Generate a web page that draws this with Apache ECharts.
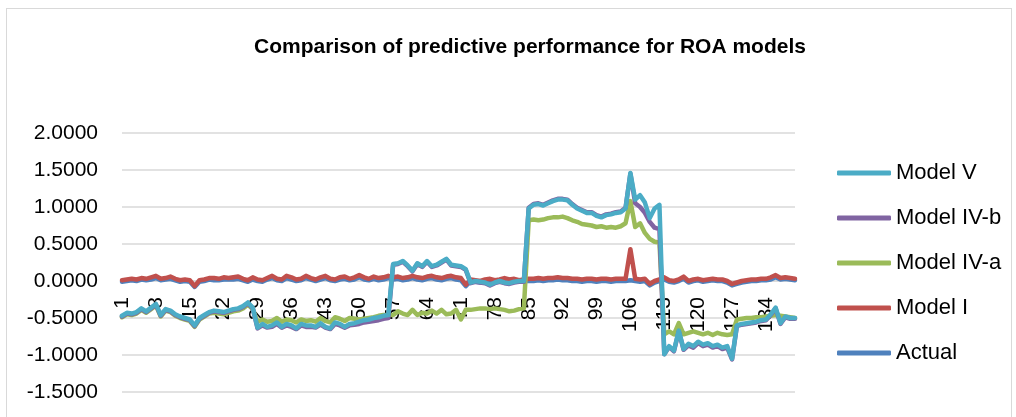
<!DOCTYPE html>
<html>
<head>
<meta charset="utf-8">
<script src="https://cdn.jsdelivr.net/npm/echarts@6/dist/echarts.min.js"></script>
<style>
    html, body { margin: 0; padding: 0; background: #fff; }
    #frame { position: absolute; left: 6px; top: 8px; width: 1004px; height: 420px; border: 1px solid #d9d9d9; }
    #main { position: absolute; left: 0; top: 0; width: 1016px; height: 417px; }
</style>
</head>
<body>
<div id="frame"></div>
<div id="main"></div>
<script>
// 横轴 1..140
var categories = [];
for (var k = 1; k <= 140; k++) {
    categories.push(String(k));
}

var yTicks = [-1.5, -1.0, -0.5, 0.0, 0.5, 1.0, 1.5, 2.0];

var modelV = [
    -0.47, -0.43, -0.44, -0.42, -0.37, -0.41, -0.36, -0.31, -0.46, -0.38,
    -0.40, -0.45, -0.48, -0.50, -0.52, -0.60, -0.50, -0.46, -0.42, -0.40,
    -0.41, -0.42, -0.40, -0.38, -0.37, -0.34, -0.29, -0.36, -0.63, -0.58,
    -0.62, -0.60, -0.56, -0.62, -0.58, -0.60, -0.64, -0.58, -0.60, -0.60,
    -0.62, -0.57, -0.62, -0.64, -0.56, -0.58, -0.62, -0.58, -0.57, -0.55,
    -0.53, -0.52, -0.50, -0.49, -0.47, -0.46, 0.23, 0.24, 0.27, 0.21,
    0.14, 0.24, 0.20, 0.27, 0.20, 0.22, 0.26, 0.30, 0.22, 0.21,
    0.20, 0.16, -0.02, 0.00, -0.01, -0.02, -0.05, -0.02, 0.00, -0.02,
    -0.03, -0.01, 0.00, 0.00, 0.98, 1.03, 1.04, 1.02, 1.05, 1.08,
    1.10, 1.10, 1.09, 1.03, 0.98, 0.95, 0.92, 0.92, 0.88, 0.86,
    0.89, 0.90, 0.92, 0.93, 0.98, 1.46, 1.10, 1.16, 1.06, 0.85,
    0.98, 1.03, -0.99, -0.88, -0.94, -0.67, -0.92, -0.85, -0.88, -0.82,
    -0.86, -0.84, -0.88, -0.86, -0.90, -0.88, -1.05, -0.60, -0.58, -0.57,
    -0.56, -0.55, -0.53, -0.52, -0.45, -0.36, -0.57, -0.48, -0.50, -0.50
];

var modelIVb = [
    -0.48, -0.44, -0.45, -0.43, -0.38, -0.42, -0.37, -0.32, -0.47, -0.39,
    -0.41, -0.46, -0.49, -0.51, -0.53, -0.61, -0.51, -0.47, -0.43, -0.41,
    -0.42, -0.43, -0.41, -0.39, -0.38, -0.35, -0.30, -0.37, -0.64, -0.60,
    -0.63, -0.62, -0.58, -0.63, -0.60, -0.62, -0.65, -0.60, -0.62, -0.62,
    -0.63, -0.59, -0.63, -0.65, -0.58, -0.60, -0.63, -0.60, -0.59, -0.58,
    -0.56, -0.55, -0.54, -0.53, -0.51, -0.50, 0.22, 0.23, 0.26, 0.20,
    0.13, 0.23, 0.19, 0.26, 0.19, 0.21, 0.25, 0.29, 0.21, 0.20,
    0.19, 0.15, -0.03, -0.01, -0.02, -0.03, -0.06, -0.03, -0.01, -0.03,
    -0.04, -0.02, -0.01, -0.01, 0.99, 1.04, 1.05, 1.03, 1.06, 1.09,
    1.11, 1.11, 1.10, 1.04, 0.99, 0.96, 0.93, 0.93, 0.89, 0.87,
    0.90, 0.91, 0.93, 0.94, 0.99, 1.45, 1.05, 1.00, 0.92, 0.80,
    0.72, 0.70, -0.99, -0.89, -0.95, -0.68, -0.93, -0.87, -0.90, -0.84,
    -0.88, -0.86, -0.90, -0.88, -0.92, -0.90, -1.06, -0.61, -0.59, -0.58,
    -0.57, -0.56, -0.54, -0.53, -0.46, -0.37, -0.58, -0.49, -0.51, -0.51
];

var modelIVa = [
    -0.49, -0.45, -0.46, -0.44, -0.39, -0.43, -0.38, -0.33, -0.48, -0.40,
    -0.42, -0.47, -0.50, -0.52, -0.54, -0.62, -0.52, -0.48, -0.44, -0.43,
    -0.44, -0.45, -0.43, -0.41, -0.40, -0.37, -0.32, -0.38, -0.55, -0.52,
    -0.55, -0.54, -0.50, -0.55, -0.52, -0.53, -0.56, -0.52, -0.54, -0.53,
    -0.55, -0.50, -0.54, -0.56, -0.49, -0.51, -0.54, -0.50, -0.51, -0.52,
    -0.51, -0.50, -0.49, -0.47, -0.46, -0.46, -0.46, -0.41, -0.44, -0.46,
    -0.39, -0.46, -0.43, -0.44, -0.40, -0.44, -0.39, -0.45, -0.44, -0.39,
    -0.52, -0.39, -0.39, -0.38, -0.37, -0.37, -0.38, -0.37, -0.38, -0.39,
    -0.41, -0.40, -0.38, -0.37, 0.82, 0.83, 0.82, 0.83, 0.85, 0.86,
    0.86, 0.87, 0.85, 0.82, 0.80, 0.77, 0.76, 0.75, 0.73, 0.74,
    0.72, 0.73, 0.72, 0.74, 0.78, 1.08, 0.73, 0.78, 0.65, 0.57,
    0.53, 0.52, -0.72, -0.68, -0.72, -0.57, -0.72, -0.70, -0.68, -0.70,
    -0.72, -0.70, -0.73, -0.70, -0.72, -0.73, -0.72, -0.52, -0.51, -0.50,
    -0.50, -0.49, -0.49, -0.48, -0.47, -0.46, -0.47, -0.48, -0.49, -0.50
];

var modelI = [
    0.01, 0.02, 0.03, 0.02, 0.04, 0.03, 0.05, 0.07, 0.03, 0.04,
    0.06, 0.03, 0.01, 0.02, 0.01, -0.07, 0.01, 0.02, 0.04, 0.04,
    0.03, 0.05, 0.04, 0.05, 0.06, 0.03, 0.01, 0.05, 0.02, 0.01,
    0.04, 0.07, 0.03, 0.02, 0.07, 0.05, 0.02, 0.03, 0.07, 0.04,
    0.02, 0.05, 0.07, 0.03, 0.02, 0.05, 0.06, 0.03, 0.05, 0.08,
    0.05, 0.03, 0.06, 0.04, 0.05, 0.07, 0.05, 0.06, 0.04, 0.05,
    0.07, 0.05, 0.04, 0.06, 0.07, 0.05, 0.04, 0.06, 0.07, 0.05,
    0.04, -0.05, 0.02, 0.01, 0.00, 0.02, 0.03, 0.01, 0.02, 0.04,
    0.02, 0.03, 0.01, 0.02, 0.03, 0.03, 0.04, 0.03, 0.04, 0.04,
    0.05, 0.04, 0.04, 0.03, 0.03, 0.02, 0.03, 0.03, 0.02, 0.03,
    0.03, 0.02, 0.03, 0.03, 0.03, 0.43, 0.03, 0.02, 0.03, -0.04,
    0.00, 0.02, 0.05, 0.01, 0.00, 0.02, 0.06, 0.00, 0.02, 0.03,
    0.01, 0.02, 0.03, 0.02, 0.02, 0.00, -0.04, -0.02, 0.00, 0.01,
    0.02, 0.02, 0.03, 0.03, 0.05, 0.08, 0.04, 0.05, 0.04, 0.03
];

var actual = [
    -0.01, 0.00, 0.01, 0.00, 0.02, 0.01, 0.02, 0.04, 0.01, 0.02,
    0.03, 0.01, -0.01, 0.00, -0.01, -0.08, -0.01, 0.00, 0.02, 0.01,
    0.01, 0.02, 0.02, 0.02, 0.03, 0.01, -0.01, 0.02, 0.00, -0.01,
    0.02, 0.04, 0.01, 0.00, 0.04, 0.02, 0.00, 0.01, 0.04, 0.02,
    0.00, 0.02, 0.04, 0.01, 0.00, 0.02, 0.03, 0.01, 0.02, 0.05,
    0.02, 0.01, 0.03, 0.01, 0.02, 0.04, 0.02, 0.03, 0.01, 0.02,
    0.04, 0.02, 0.01, 0.03, 0.04, 0.02, 0.01, 0.03, 0.04, 0.02,
    0.01, -0.07, 0.00, -0.01, -0.02, 0.00, 0.01, -0.01, 0.00, 0.02,
    0.00, 0.01, -0.01, 0.00, 0.00, 0.00, 0.01, 0.00, 0.01, 0.01,
    0.02, 0.01, 0.01, 0.00, 0.00, -0.01, 0.00, 0.00, -0.01, 0.00,
    0.00, -0.01, 0.00, 0.00, 0.00, 0.01, 0.00, -0.01, 0.00, -0.06,
    -0.02, 0.00, 0.02, -0.01, -0.02, 0.00, 0.03, -0.02, 0.00, 0.01,
    -0.01, 0.00, 0.01, 0.00, 0.00, -0.02, -0.06, -0.04, -0.02, -0.01,
    0.00, 0.00, 0.01, 0.01, 0.02, 0.05, 0.02, 0.03, 0.02, 0.01
];

var font = '"Liberation Sans", Arial, sans-serif';

// 绘图区
var gridTop = 133, gridBottom = 25;
var plotH = 417 - gridTop - gridBottom;
var yMin = yTicks[0], yMax = yTicks[yTicks.length - 1];
// 横轴标签放到 0 线上
var zeroFromBottom = plotH * (0 - yMin) / (yMax - yMin);

function lineSeries(name, data, color) {
    return {
        name: name,
        type: 'line',
        data: data,
        symbol: 'none',
        animation: false,
        lineStyle: { color: color, width: 4.5, cap: 'round', join: 'round' },
        itemStyle: { color: color }
    };
}

var chart = echarts.init(document.getElementById('main'));
var option = {
    animation: false,
    title: {
        text: 'Comparison of predictive performance for ROA models',
        left: 525,
        textAlign: 'center',
        top: 32,
        textStyle: { fontFamily: font, fontSize: 21, fontWeight: 'bold', color: '#000' }
    },
    legend: {
        orient: 'vertical',
        left: 832,
        top: 156,
        itemWidth: 54,
        itemHeight: 5,
        itemGap: 21,
        icon: 'roundRect',
        data: ['Model V', 'Model IV-b', 'Model IV-a', 'Model I', 'Actual'],
        textStyle: { fontFamily: font, fontSize: 22, color: '#000', lineHeight: 24 }
    },
    grid: { left: 122, right: 221, top: gridTop, bottom: gridBottom, containLabel: false, outerBoundsMode: 'none' },
    xAxis: {
        type: 'category',
        data: categories,
        boundaryGap: false,
        offset: -zeroFromBottom,
        axisLine: { onZero: false, lineStyle: { color: '#d9d9d9', width: 1.5 } },
        axisTick: { show: false },
        axisLabel: {
            interval: 6,
            rotate: 90,
            margin: 16,
            fontFamily: font,
            fontSize: 21,
            color: '#000'
        }
    },
    yAxis: {
        type: 'value',
        min: yMin,
        max: yMax,
        interval: 0.5,
        axisLine: { show: false },
        axisTick: { show: false },
        splitLine: { lineStyle: { color: '#d9d9d9', width: 1.5 } },
        axisLabel: {
            margin: 24,
            fontFamily: font,
            fontSize: 21,
            color: '#000',
            formatter: function (v) { return v.toFixed(4); }
        }
    },
    series: [
        lineSeries('Actual', actual, '#4F81BD'),
        lineSeries('Model I', modelI, '#C0504D'),
        lineSeries('Model IV-a', modelIVa, '#9BBB59'),
        lineSeries('Model IV-b', modelIVb, '#8064A2'),
        lineSeries('Model V', modelV, '#4BACC6')
    ]
};
chart.setOption(option);
</script>
</body>
</html>
